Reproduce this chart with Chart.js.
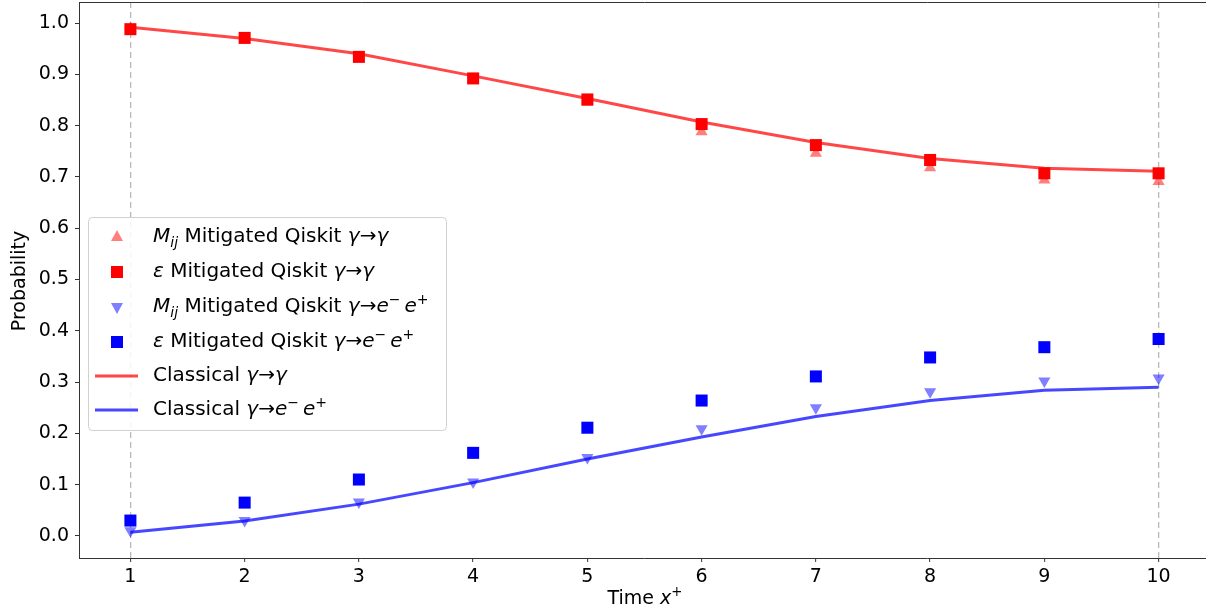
<!DOCTYPE html>
<html lang="en">
<head>
<meta charset="UTF-8">
<title>Probability vs time</title>
<script src="https://cdn.jsdelivr.net/npm/chart.js"></script>
<style>
    * { margin: 0; padding: 0; box-sizing: border-box; }
    html, body { width: 1206px; height: 613px; overflow: hidden; background: #fff; }
</style>
</head>
<body>
<canvas id="prob" width="1212" height="613"></canvas>
<script>
    // values
    const times = [1, 2, 3, 4, 5, 6, 7, 8, 9, 10];
    const mijGammaGamma = [0.990, 0.968, 0.932, 0.890, 0.845, 0.788, 0.746, 0.718, 0.694, 0.691];
    const epsGammaGamma = [0.988, 0.971, 0.934, 0.892, 0.851, 0.803, 0.762, 0.733, 0.707, 0.707];
    const mijGammaPair  = [0.010, 0.030, 0.066, 0.105, 0.153, 0.209, 0.250, 0.281, 0.302, 0.308];
    const epsGammaPair  = [0.030, 0.065, 0.110, 0.162, 0.211, 0.264, 0.311, 0.348, 0.368, 0.384];
    const classicalGammaGamma = [0.992, 0.970, 0.940, 0.897, 0.853, 0.807, 0.767, 0.736, 0.717, 0.711];
    const classicalGammaPair  = [0.007, 0.029, 0.062, 0.104, 0.150, 0.193, 0.233, 0.264, 0.284, 0.290];
    const xTicks = [1, 2, 3, 4, 5, 6, 7, 8, 9, 10];
    const yTicks = [0.0, 0.1, 0.2, 0.3, 0.4, 0.5, 0.6, 0.7, 0.8, 0.9, 1.0];

    const pts = ys => times.map((t, i) => ({ x: t, y: ys[i] }));
    const FONT = '"DejaVu Sans", sans-serif';

    const RED_LINE = 'rgba(255,0,0,0.72)';
    const BLUE_LINE = 'rgba(0,0,255,0.72)';
    const RED_TRI = 'rgba(255,0,0,0.5)';
    const BLUE_TRI = 'rgba(0,0,255,0.5)';

    const markers = (label, ys, color, style, radius, rotation, order) => ({
        label: label,
        data: pts(ys),
        showLine: false,
        pointStyle: style,
        pointRadius: radius,
        pointRotation: rotation,
        pointBackgroundColor: color,
        pointBorderWidth: 0,
        pointBorderColor: color,
        clip: false,
        order: order
    });

    const curve = (label, ys, color, order) => ({
        label: label,
        data: pts(ys),
        borderColor: color,
        borderWidth: 3,
        pointRadius: 0,
        tension: 0,
        fill: false,
        order: order
    });

    // rich text: [{t, i (italic), sub, sup}]
    const segFont = (s, size) => {
        const fs = (s.sub || s.sup) ? size * 0.7 : size;
        return (s.i ? 'italic ' : '') + fs + 'px ' + FONT;
    };

    const drawRich = (ctx, segs, x, y, size) => {
        ctx.save();
        ctx.textBaseline = 'middle';
        ctx.textAlign = 'left';
        ctx.fillStyle = '#000';
        let cx = x;
        segs.forEach(s => {
            ctx.font = segFont(s, size);
            let dy = 0;
            if (s.sub) dy = size * 0.3;
            if (s.sup) dy = -size * 0.35;
            ctx.fillText(s.t, cx, y + dy);
            cx += ctx.measureText(s.t).width;
        });
        ctx.restore();
    };

    const richWidth = (ctx, segs, size) => {
        ctx.save();
        let w = 0;
        segs.forEach(s => {
            ctx.font = segFont(s, size);
            w += ctx.measureText(s.t).width;
        });
        ctx.restore();
        return w;
    };

    const gg = [{ t: 'γ', i: 1 }, { t: '→' }, { t: 'γ', i: 1 }];
    const gee = [{ t: 'γ', i: 1 }, { t: '→' }, { t: 'e', i: 1 }, { t: '−', sup: 1 }, { t: '\u2009' }, { t: 'e', i: 1 }, { t: '+', sup: 1 }];
    const mij = [{ t: 'M', i: 1 }, { t: 'ij', i: 1, sub: 1 }];
    const eps = [{ t: 'ε', i: 1 }];

    const legendRows = [
        { kind: 'tri', color: RED_TRI, text: [...mij, { t: ' Mitigated Qiskit ' }, ...gg] },
        { kind: 'sq', color: 'red', text: [...eps, { t: ' Mitigated Qiskit ' }, ...gg] },
        { kind: 'triDown', color: BLUE_TRI, text: [...mij, { t: ' Mitigated Qiskit ' }, ...gee] },
        { kind: 'sq', color: 'blue', text: [...eps, { t: ' Mitigated Qiskit ' }, ...gee] },
        { kind: 'line', color: RED_LINE, text: [{ t: 'Classical ' }, ...gg] },
        { kind: 'line', color: BLUE_LINE, text: [{ t: 'Classical ' }, ...gee] }
    ];

    const decorPlugin = {
        id: 'decor',
        afterDraw(chart) {
            const ctx = chart.ctx;
            const a = chart.chartArea;

            // top spine
            ctx.save();
            ctx.strokeStyle = '#333';
            ctx.lineWidth = 1;
            ctx.beginPath();
            ctx.moveTo(a.left, a.top + 0.5);
            ctx.lineTo(a.right, a.top + 0.5);
            ctx.stroke();
            ctx.restore();

            // axis titles
            ctx.save();
            ctx.translate(20, 281);
            ctx.rotate(-Math.PI / 2);
            ctx.font = '19px ' + FONT;
            ctx.textAlign = 'center';
            ctx.textBaseline = 'middle';
            ctx.fillStyle = '#000';
            ctx.fillText('Probability', 0, 0);
            ctx.restore();

            const xTitle = [{ t: 'Time ' }, { t: 'x', i: 1 }, { t: '+', sup: 1 }];
            const w = richWidth(ctx, xTitle, 19);
            drawRich(ctx, xTitle, 645 - w / 2, 599, 19);

            // legend box
            const bx = 88.5, by = 217.5, bw = 358, bh = 213;
            ctx.save();
            ctx.fillStyle = 'rgba(255,255,255,0.85)';
            ctx.strokeStyle = '#d0d0d0';
            ctx.lineWidth = 1;
            ctx.beginPath();
            if (ctx.roundRect) ctx.roundRect(bx, by, bw, bh, 4);
            else ctx.rect(bx, by, bw, bh);
            ctx.fill();
            ctx.stroke();
            ctx.restore();

            const rowY = [237, 272, 307, 342, 376, 410];
            const mx = 117;
            legendRows.forEach((row, i) => {
                const y = rowY[i];
                ctx.save();
                ctx.fillStyle = row.color;
                ctx.strokeStyle = row.color;
                if (row.kind === 'sq') {
                    ctx.fillRect(mx - 6, y - 6, 12, 12);
                } else if (row.kind === 'tri') {
                    ctx.beginPath();
                    ctx.moveTo(mx, y - 7);
                    ctx.lineTo(mx + 6, y + 4);
                    ctx.lineTo(mx - 6, y + 4);
                    ctx.closePath();
                    ctx.fill();
                } else if (row.kind === 'triDown') {
                    ctx.beginPath();
                    ctx.moveTo(mx, y + 7);
                    ctx.lineTo(mx + 6, y - 4);
                    ctx.lineTo(mx - 6, y - 4);
                    ctx.closePath();
                    ctx.fill();
                } else {
                    ctx.lineWidth = 3;
                    ctx.beginPath();
                    ctx.moveTo(95, y);
                    ctx.lineTo(138, y);
                    ctx.stroke();
                }
                ctx.restore();
                drawRich(ctx, row.text, 153, y, 20);
            });
        }
    };

    const gridColor = c => (c.tick && (c.tick.value === 1 || c.tick.value === 10)) ? '#b8b8b8' : 'rgba(0,0,0,0)';

    new Chart(document.getElementById('prob').getContext('2d'), {
        type: 'line',
        data: {
            datasets: [
                curve('Classical γ→γ', classicalGammaGamma, RED_LINE, 1),
                curve('Classical γ→e⁻e⁺', classicalGammaPair, BLUE_LINE, 1),
                markers('ε Mitigated Qiskit γ→γ', epsGammaGamma, 'red', 'rect', 8.5, 0, 2),
                markers('ε Mitigated Qiskit γ→e⁻e⁺', epsGammaPair, 'blue', 'rect', 8.5, 0, 2),
                markers('Mij Mitigated Qiskit γ→γ', mijGammaGamma, RED_TRI, 'triangle', 7, 0, 3),
                markers('Mij Mitigated Qiskit γ→e⁻e⁺', mijGammaPair, BLUE_TRI, 'triangle', 7, 180, 3)
            ]
        },
        options: {
            responsive: false,
            animation: false,
            devicePixelRatio: 1,
            layout: { autoPadding: false, padding: { top: 2, right: 2, left: 0, bottom: 0 } },
            plugins: {
                legend: { display: false },
                tooltip: { enabled: false },
                title: { display: false }
            },
            scales: {
                x: {
                    type: 'linear',
                    min: 0.55,
                    max: 10.45,
                    afterBuildTicks: axis => { axis.ticks = xTicks.map(v => ({ value: v })); },
                    afterFit: axis => {
                        axis.height = 55;
                        axis.paddingLeft = 0;
                        axis.paddingRight = 0;
                    },
                    ticks: {
                        color: '#000',
                        font: { family: FONT, size: 19 },
                        padding: 4,
                        maxRotation: 0,
                        autoSkip: false,
                        callback: v => String(v)
                    },
                    grid: {
                        color: gridColor,
                        lineWidth: 1.3,
                        tickColor: '#333',
                        tickLength: 4,
                        tickWidth: 1
                    },
                    border: { color: '#333', width: 1, dash: [6, 4] }
                },
                y: {
                    type: 'linear',
                    min: -0.043,
                    max: 1.041,
                    afterBuildTicks: axis => { axis.ticks = yTicks.map(v => ({ value: v })); },
                    afterFit: axis => {
                        axis.width = 79;
                        axis.paddingTop = 0;
                        axis.paddingBottom = 0;
                    },
                    ticks: {
                        color: '#000',
                        font: { family: FONT, size: 19 },
                        padding: 6,
                        autoSkip: false,
                        callback: v => Number(v).toFixed(1)
                    },
                    grid: {
                        color: 'rgba(0,0,0,0)',
                        tickColor: '#333',
                        tickLength: 4,
                        tickWidth: 1
                    },
                    border: { color: '#333', width: 1 }
                }
            }
        },
        plugins: [decorPlugin]
    });
</script>
</body>
</html>
